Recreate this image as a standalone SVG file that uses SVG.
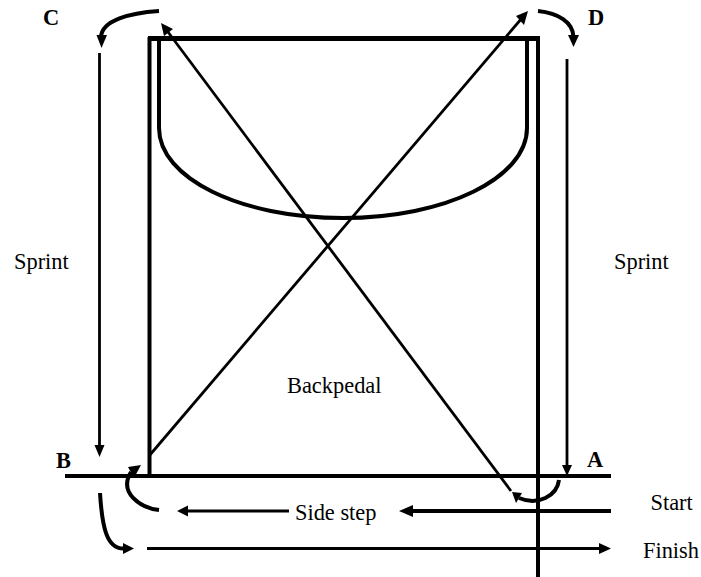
<svg xmlns="http://www.w3.org/2000/svg" width="701" height="577" viewBox="0 0 701 577">
<style>
.t{font-family:"Liberation Serif","Times New Roman",serif;font-size:22.4px;fill:#000}
.b{font-weight:bold}
.h{fill:#000;stroke:none}
.l{fill:none;stroke:#000;stroke-width:4}
.m{fill:none;stroke:#000;stroke-width:4}
.s{fill:none;stroke:#000;stroke-width:2.8}
.c{fill:none;stroke:#000;stroke-width:4}
</style>
<rect width="701" height="577" fill="#fff"/>
<g id="court">
<path class="l" d="M149.500 476V39H538V577" stroke-linejoin="miter"/>
<path d="M148 38.500H540" fill="none" stroke="#000" stroke-width="5"/>
<path class="l" d="M65 476H611"/>
<path class="l" d="M159 39V128C159 178 240 218 343 218C445 218 527 178 527 128V39"/>
</g>
<g id="connectors">
<path class="m" d="M410 511H611"/><polygon class="h" points="399,511 413,505 413,517"/>
<path class="s" d="M289 511H186"/><polygon class="h" points="177,511 188,505.500 188,516.500"/>
<path class="s" d="M147 548.500H600"/><polygon class="h" points="611,548.500 599,543 599,554"/>
<path class="s" d="M99.500 53V446"/><polygon class="h" points="99.500,457 94.500,445 104.500,445"/>
<path class="s" d="M567 59V466"/><polygon class="h" points="567,476 562,465 572,465"/>
<path class="s" d="M149 456L522 18"/><polygon class="h" points="528,11 516,16 524,25"/>
<path class="s" d="M511 491L168 32"/><polygon class="h" points="161,23 164,36 173,29"/>
<path class="c" d="M159 11C130 13 102 20 101 37"/><polygon class="h" points="101.500,48 96.500,35 107,35"/>
<path class="c" d="M538 11C558 13 573 22 573.500 37"/><polygon class="h" points="573.500,47 568,35 579,35"/>
<path class="c" d="M159 510C141 508 118 493 131 472"/><polygon class="h" points="141,465 128,467 134,478"/>
<path class="c" d="M100 493C102 525 106 550 125 548.500"/><polygon class="h" points="134,548.500 123,543 123,554"/>
<path class="c" d="M559 480C557 496 538 506 519 498"/><polygon class="h" points="512,492 516,503 522,493"/>
</g>
<g id="labels">
<text class="t b" x="43" y="25">C</text>
<text class="t b" x="588" y="25">D</text>
<text class="t b" x="56" y="468">B</text>
<text class="t b" x="587" y="467">A</text>
<text class="t" x="14" y="269">Sprint</text>
<text class="t" x="614" y="269">Sprint</text>
<text class="t" x="287" y="393">Backpedal</text>
<text class="t" x="295" y="520">Side step</text>
<text class="t" x="650.500" y="510">Start</text>
<text class="t" x="643" y="558">Finish</text>
</g>
</svg>
